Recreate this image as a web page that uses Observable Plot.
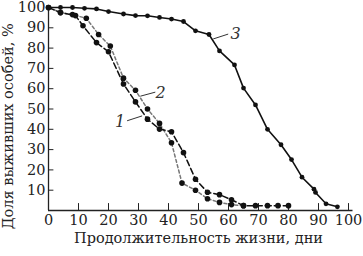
<!DOCTYPE html>
<html>
<head>
<meta charset="utf-8">
<script src="https://cdn.jsdelivr.net/npm/d3@7"></script>
<script src="https://cdn.jsdelivr.net/npm/@observablehq/plot@0.6"></script>
<style>
  html, body { margin: 0; padding: 0; background: #fff; }
</style>
</head>
<body>
<div id="chart"></div>
<script>
// Curve 1 (black dashed)
const days1 = [0, 4, 9, 11.5, 16, 20, 25, 29, 33, 37, 41, 45, 49, 53, 57, 61, 65, 69, 73, 76.5, 80];
const surv1 = [100, 97.5, 96, 91, 82.7, 78.2, 62.3, 53.5, 45, 40.1, 38.8, 28.5, 15.4, 9, 7.8, 5.3, 2.4, 2.4, 2.4, 2.4, 2.4];
// Curve 2 (grey dashed)
const days2 = [0, 4, 8, 12.6, 16.7, 20.6, 25, 29, 33, 37, 41, 44.5, 49, 53, 57, 61, 65];
const surv2 = [100, 97.5, 96.5, 94.7, 86.7, 81, 65.2, 59.2, 50, 42.9, 33.4, 13.5, 10, 5.8, 4, 2.9, 2.4];
// Curve 3 (solid)
const days3 = [0, 4, 8, 12, 16, 20, 25, 29, 33, 37, 41, 45, 49, 53.5, 57, 62, 65, 69, 73, 77.5, 81, 84.5, 88.5, 89, 92.5, 96.3];
const surv3 = [100, 100, 100, 99.6, 99.3, 98, 96.8, 96, 95.9, 95.1, 94.3, 93.1, 88.5, 86.7, 78.6, 71.7, 60.3, 52, 40, 32.4, 25.1, 16.4, 10.5, 8.9, 3.3, 1.8];

const xTicks = [0, 10, 20, 30, 40, 50, 60, 70, 80, 90, 100];
const yTicks = [10, 20, 30, 40, 50, 60, 70, 80, 90, 100];
const xLabel = "Продолжительность жизни, дни";
const yLabel = "Доля выживших особей, %";
const curveNames = ["1", "2", "3"];

const c1 = days1.map((d, i) => ({x: d, y: surv1[i]}));
const c2 = days2.map((d, i) => ({x: d, y: surv2[i]}));
const c3 = days3.map((d, i) => ({x: d, y: surv3[i]}));

const font = "'DejaVu Serif', serif";

const chart = Plot.plot({
  width: 363,
  height: 256,
  marginLeft: 48,
  marginRight: 15,
  marginTop: 7,
  marginBottom: 46,
  x: {domain: [0, 100], axis: null},
  y: {domain: [0, 100], axis: null},
  style: {fontFamily: font, fontSize: "14.5px", color: "#222", background: "#fff"},
  marks: [
    // axes lines
    Plot.ruleY([0], {x1: 0, x2: 101.5, stroke: "#222", strokeWidth: 1.3}),
    Plot.ruleX([0], {y1: 0, y2: 100, stroke: "#222", strokeWidth: 1.3}),
    // inward ticks
    Plot.ruleX(xTicks.slice(1), {x: d => d, y1: 0, y2: 3.4, stroke: "#222", strokeWidth: 1}),
    Plot.ruleY(yTicks.slice(0, -1), {y: d => d, x1: 0, x2: 1.8, stroke: "#222", strokeWidth: 1}),
    // tick labels
    Plot.text(xTicks, {x: d => d, y: 0, text: d => String(d), dy: 10, lineAnchor: "middle", fill: "#222"}),
    Plot.text(yTicks, {x: 0, y: d => d, text: d => String(d), dx: -3, textAnchor: "end", lineAnchor: "middle", fill: "#222"}),
    // axis titles
    Plot.text([xLabel], {frameAnchor: "bottom", text: d => d, dy: 28, lineAnchor: "middle", fill: "#222"}),
    Plot.text([yLabel], {x: -13.4, y: 41.5, text: d => d, rotate: -90, textAnchor: "middle", lineAnchor: "middle", fill: "#222"}),
    // curves
    Plot.line(c2, {x: "x", y: "y", stroke: "#777", strokeWidth: 1.5, strokeDasharray: "3,2.5"}),
    Plot.line(c1, {x: "x", y: "y", stroke: "#111", strokeWidth: 1.5, strokeDasharray: "6,3"}),
    Plot.line(c3, {x: "x", y: "y", stroke: "#111", strokeWidth: 1.6}),
    Plot.dot(c2, {x: "x", y: "y", r: 2.8, fill: "#111"}),
    Plot.dot(c1, {x: "x", y: "y", r: 2.8, fill: "#111"}),
    Plot.dot(c3, {x: "x", y: "y", r: 2.4, fill: "#111"}),
    // annotation leaders
    Plot.link([
      {x1: 26.2, y1: 44.2, x2: 31.2, y2: 46.6},
      {x1: 30.6, y1: 56.3, x2: 35.6, y2: 58.3},
      {x1: 54.9, y1: 84.5, x2: 59.9, y2: 86.9}
    ], {x1: "x1", y1: "y1", x2: "x2", y2: "y2", stroke: "#333", strokeWidth: 1}),
    Plot.text([
      {x: 23.9, y: 43.7, t: curveNames[0]},
      {x: 37.4, y: 58, t: curveNames[1]},
      {x: 62.4, y: 87.2, t: curveNames[2]}
    ], {x: "x", y: "y", text: "t", fontStyle: "italic", fontSize: 16, lineAnchor: "middle", fill: "#333"})
  ]
});
document.getElementById("chart").appendChild(chart);
</script>
</body>
</html>
